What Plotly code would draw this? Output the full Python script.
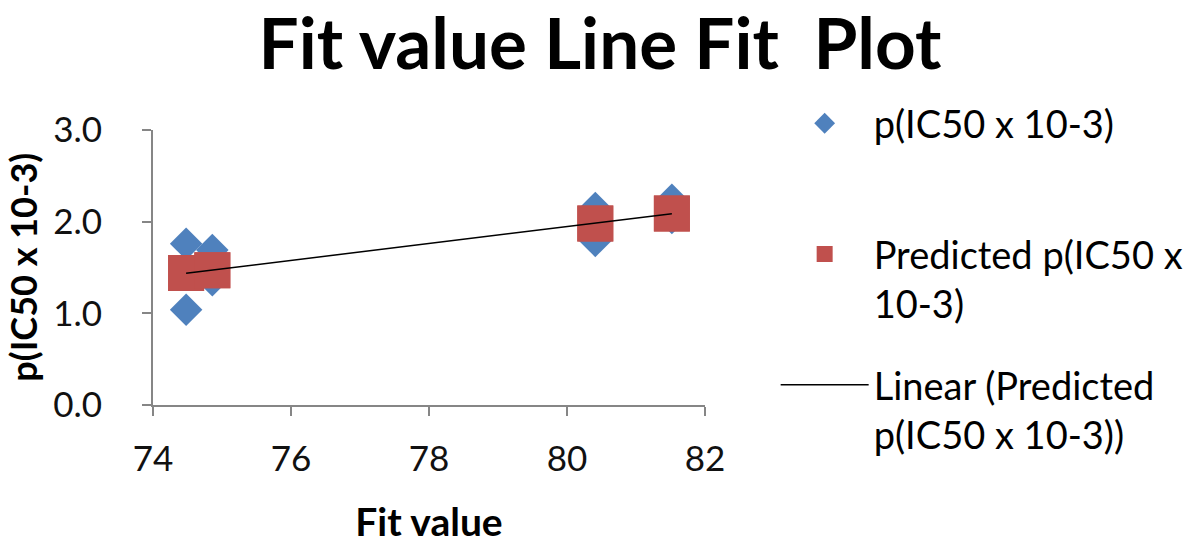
import numpy as np
import plotly.graph_objects as go

fit_value = [74.48, 74.48, 74.86, 74.86, 80.41, 80.41, 81.52, 81.52]
observed = [1.76, 1.04, 1.69, 1.36, 2.15, 1.79, 2.24, 2.04]
predicted = [1.44, 1.44, 1.47, 1.47, 1.98, 1.98, 2.09, 2.09]
x_ticks = [74, 76, 78, 80, 82]
y_ticks = [0.0, 1.0, 2.0, 3.0]

slope, intercept = np.polyfit(fit_value, predicted, 1)
trend_x = [min(fit_value), max(fit_value)]
trend_y = [slope * v + intercept for v in trend_x]

FONT = "Lato"
fig = go.Figure()
fig.add_trace(go.Scatter(
    x=fit_value, y=observed, mode="markers", name="p(IC50 x 10-3)<br> ",
    marker=dict(symbol="diamond", size=25, color="#4F81BD"),
    legendgroup="a"))
fig.add_trace(go.Scatter(
    x=fit_value, y=predicted, mode="markers", name="Predicted p(IC50 x<br>10-3)",
    marker=dict(symbol="square", size=36, color="#C0504D"),
    legendgroup="b"))
fig.add_trace(go.Scatter(
    x=trend_x, y=trend_y, mode="lines", name="Linear (Predicted<br>p(IC50 x 10-3))",
    line=dict(color="black", width=1.5), legendgroup="c"))

axis_common = dict(showgrid=False, zeroline=False, showline=True, linecolor="#868686",
                   linewidth=2, ticks="outside", ticklen=9, tickcolor="#868686", tickwidth=2,
                   automargin=False,
                   tickfont=dict(family=FONT, size=35, color="#111"))
fig.update_layout(
    width=1200, height=544,
    margin=dict(l=153, r=486, t=130, b=139),
    paper_bgcolor="white", plot_bgcolor="white",
    title=dict(text="<b>Fit value Line Fit  Plot</b>", x=0.5, xanchor="center",
               yref="container", y=0.919, yanchor="middle",
               font=dict(family=FONT, size=71, color="black")),
    xaxis=dict(range=[74, 82], tickvals=x_ticks, ticklabelstandoff=13,
               title=dict(text="<b>Fit value</b>", font=dict(family=FONT, size=39, color="black"),
                          standoff=39),
               **axis_common),
    yaxis=dict(range=[0, 3], tickvals=y_ticks, tickformat=".1f", ticklabelstandoff=33,
               **axis_common),
    annotations=[dict(text="<b>p(IC50 x 10-3)</b>", textangle=-90, xref="paper", yref="paper",
                      x=-0.237, y=0.5, xanchor="center", yanchor="middle", showarrow=False,
                      font=dict(family=FONT, size=36, color="black"))],
    legend=dict(x=1.128, y=1.138, xanchor="left", yanchor="top", valign="top",
                font=dict(family=FONT, size=38, color="black"), tracegroupgap=29,
                itemwidth=88, maxheight=1, bgcolor="rgba(0,0,0,0)"),
    showlegend=True,
)
fig.write_html("out.html", config={"displayModeBar": False},
               post_script="document.body.style.margin='0px';")
